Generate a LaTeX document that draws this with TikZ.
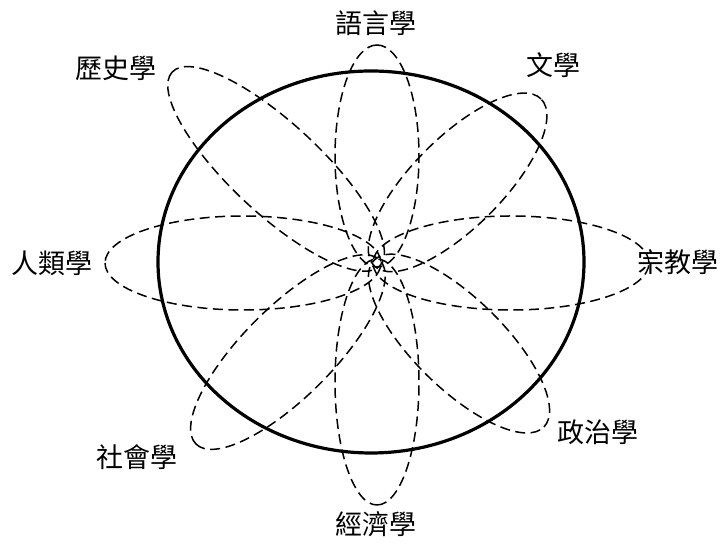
\documentclass[tikz,border=0pt]{standalone}
\usepackage{fontspec}
\newfontfamily\cjk{Noto Sans CJK TC}
\begin{document}
\begin{tikzpicture}[x=1pt,y=1pt,
  petal/.style={draw=black, line width=1.5pt, dash pattern=on 10pt off 5.5pt},
  ring/.style={draw=black, line width=3.2pt},
  lbl/.style={inner sep=0pt, font=\cjk\fontsize{27}{30}\selectfont}]
\useasboundingbox (0,0) rectangle (726,545);
\coordinate (C) at (377,282);
% outer ring
\draw[ring] (371,283) ellipse [x radius=213pt, y radius=191pt];
% petals
\foreach \ang/\a/\b/\n in {0/138/47/pe, 180/138/47/pw, 90/111/42/pn, 270/123/42/ps, 137/142/45/pnw, 45/118/45/pne, -44.5/119/45/pse, -135/130/45/psw}{
  \path (C) ++(\ang:\a-4) coordinate (\n);
  \draw[petal, rotate around={\ang:(\n)}] (\n) ellipse [x radius=\a pt, y radius=\b pt];
}
% labels
\node[lbl] (l1) at (376,522) {語言學};
\node[lbl] (l2) at (553,480) {文學};
\node[lbl] (l3) at (678,283) {宗教學};
\node[lbl] (l4) at (598,113) {政治學};
\node[lbl] (l5) at (376,21) {經濟學};
\node[lbl] (l6) at (137,88) {社會學};
\node[lbl] (l7) at (52,282) {人類學};
\node[lbl] (l8) at (116,477) {歷史學};
\end{tikzpicture}
\end{document}
